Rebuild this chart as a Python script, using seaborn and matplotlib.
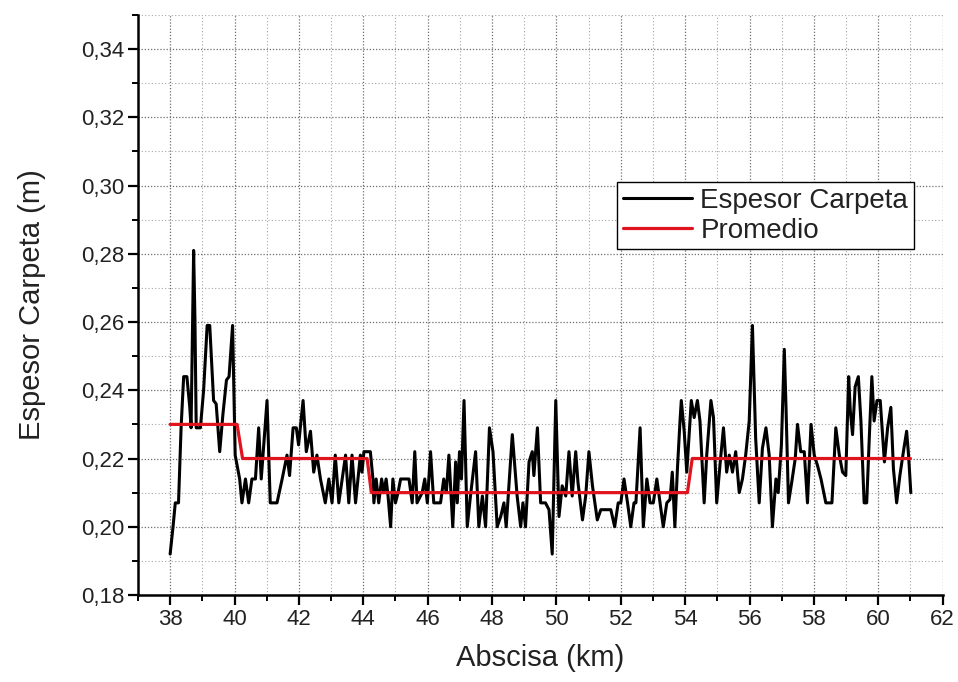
import matplotlib
matplotlib.use("Agg")
import matplotlib.pyplot as plt
import seaborn as sns
import pandas as pd
from matplotlib.ticker import MultipleLocator, FuncFormatter

# ---- data ----
abscisa_km = [
    38.00, 38.09, 38.16, 38.26, 38.34, 38.42, 38.52, 38.61, 38.65, 38.69, 38.73, 38.77, 38.81, 38.94,
    39.04, 39.15, 39.23, 39.35, 39.43, 39.54, 39.64, 39.75, 39.83, 39.94,
    40.02, 40.16, 40.23, 40.34, 40.44, 40.54, 40.65, 40.75, 40.83,
    41.01, 41.11, 41.32, 41.48, 41.63, 41.71, 41.82, 41.92, 41.99,
    42.13, 42.23, 42.36, 42.46, 42.56, 42.67, 42.82, 42.93,
    43.03, 43.13, 43.24, 43.45, 43.55, 43.65, 43.76, 43.91, 43.96,
    44.02, 44.22, 44.30, 44.33, 44.40, 44.48, 44.57, 44.64, 44.71, 44.77, 44.85, 44.92,
    45.00, 45.08, 45.16, 45.42, 45.52, 45.60, 45.67, 45.83, 45.91, 45.99,
    46.09, 46.19, 46.40, 46.50, 46.58, 46.66, 46.78, 46.87, 46.92, 46.99,
    47.05, 47.13, 47.23, 47.33, 47.49, 47.59, 47.70, 47.80, 47.92,
    48.03, 48.16, 48.27, 48.37, 48.44, 48.63, 48.78, 48.89, 48.96,
    49.04, 49.15, 49.25, 49.30, 49.41, 49.51, 49.66, 49.77, 49.87, 49.98,
    50.08, 50.18, 50.29, 50.39, 50.49, 50.60, 50.67, 50.81, 50.91,
    51.01, 51.12, 51.27, 51.38, 51.69, 51.81, 51.92,
    52.00, 52.10, 52.21, 52.31, 52.41, 52.47, 52.60, 52.70, 52.81, 52.91,
    53.01, 53.12, 53.22, 53.32, 53.43, 53.53, 53.60, 53.68, 53.76, 53.84, 53.88, 53.97,
    54.05, 54.19, 54.28, 54.38, 54.46, 54.59, 54.67, 54.80, 54.88, 54.98,
    55.09, 55.19, 55.29, 55.37, 55.47, 55.57, 55.68, 55.78, 55.88, 55.99,
    56.09, 56.19, 56.30, 56.40, 56.51, 56.61, 56.71, 56.82, 56.89, 56.99,
    57.08, 57.13, 57.21, 57.31, 57.42, 57.49, 57.59, 57.70, 57.80, 57.91,
    58.01, 58.11, 58.22, 58.37, 58.56, 58.68, 58.79, 58.89, 58.99,
    59.08, 59.13, 59.20, 59.28, 59.38, 59.46, 59.56, 59.64, 59.72, 59.80, 59.87, 59.96,
    60.06, 60.19, 60.29, 60.39, 60.47, 60.57, 60.67, 60.78, 60.88, 60.94, 61.01,
]
espesor_m = [
    0.192, 0.200, 0.207, 0.207, 0.229, 0.244, 0.244, 0.235, 0.229, 0.255, 0.281, 0.261, 0.229, 0.229,
    0.240, 0.259, 0.259, 0.237, 0.236, 0.222, 0.233, 0.243, 0.244, 0.259,
    0.221, 0.214, 0.207, 0.214, 0.207, 0.214, 0.214, 0.229, 0.214,
    0.237, 0.207, 0.207, 0.214, 0.221, 0.215, 0.229, 0.229, 0.224,
    0.237, 0.222, 0.228, 0.216, 0.221, 0.214, 0.207, 0.214,
    0.207, 0.221, 0.207, 0.221, 0.207, 0.221, 0.207, 0.221, 0.216,
    0.222, 0.222, 0.214, 0.207, 0.214, 0.207, 0.214, 0.210, 0.214, 0.209, 0.200, 0.214,
    0.207, 0.210, 0.214, 0.214, 0.207, 0.222, 0.207, 0.210, 0.214, 0.207,
    0.222, 0.207, 0.207, 0.214, 0.210, 0.221, 0.200, 0.219, 0.207, 0.222,
    0.214, 0.237, 0.200, 0.209, 0.222, 0.200, 0.209, 0.200, 0.229,
    0.222, 0.200, 0.203, 0.207, 0.200, 0.227, 0.209, 0.200, 0.207,
    0.200, 0.219, 0.222, 0.215, 0.229, 0.207, 0.207, 0.205, 0.192, 0.237,
    0.203, 0.212, 0.209, 0.222, 0.209, 0.222, 0.213, 0.202, 0.209,
    0.222, 0.212, 0.202, 0.205, 0.205, 0.200, 0.207,
    0.207, 0.214, 0.207, 0.200, 0.207, 0.207, 0.229, 0.200, 0.214, 0.207,
    0.207, 0.214, 0.207, 0.200, 0.207, 0.208, 0.216, 0.200, 0.217, 0.231, 0.237, 0.228,
    0.216, 0.237, 0.232, 0.237, 0.231, 0.207, 0.221, 0.237, 0.232, 0.207,
    0.219, 0.229, 0.216, 0.221, 0.216, 0.222, 0.210, 0.214, 0.221, 0.231,
    0.259, 0.226, 0.207, 0.223, 0.229, 0.221, 0.200, 0.214, 0.210, 0.224,
    0.252, 0.236, 0.207, 0.213, 0.220, 0.230, 0.222, 0.222, 0.207, 0.230,
    0.221, 0.218, 0.214, 0.207, 0.207, 0.229, 0.221, 0.216, 0.215,
    0.244, 0.234, 0.227, 0.241, 0.244, 0.231, 0.207, 0.207, 0.226, 0.244, 0.231, 0.237,
    0.237, 0.219, 0.229, 0.235, 0.217, 0.207, 0.215, 0.222, 0.228, 0.221, 0.210,
]
promedio_km = [38.0, 40.08, 40.25, 44.12, 44.25, 54.07, 54.22, 61.0]
promedio_m = [0.23, 0.23, 0.22, 0.22, 0.21, 0.21, 0.22, 0.22]

x_label = "Abscisa (km)"
y_label = "Espesor Carpeta (m)"
series_labels = ["Espesor Carpeta", "Promedio"]

df_esp = pd.DataFrame({"km": abscisa_km, "esp": espesor_m})
df_prom = pd.DataFrame({"km": promedio_km, "esp": promedio_m})

sns.set_style("white")
plt.rcParams["font.family"] = ["Liberation Sans", "DejaVu Sans"]

fig = plt.figure(figsize=(9.58, 6.82), dpi=100)
ax = fig.add_axes([0.144, 0.1276, 0.84, 0.8504])

sns.lineplot(data=df_esp, x="km", y="esp", ax=ax, color="black", lw=2.2,
             estimator=None, sort=False, label=series_labels[0])
sns.lineplot(data=df_prom, x="km", y="esp", ax=ax, color="#e0141e", lw=2.3,
             estimator=None, sort=False, label=series_labels[1])

ax.set_xlim(37, 62)
ax.set_ylim(0.18, 0.35)
ax.xaxis.set_major_locator(MultipleLocator(2))
ax.xaxis.set_minor_locator(MultipleLocator(1))
ax.yaxis.set_major_locator(MultipleLocator(0.02))
ax.yaxis.set_minor_locator(MultipleLocator(0.01))
ax.yaxis.set_major_formatter(FuncFormatter(lambda v, p: f"{v:.2f}".replace(".", ",")))

ax.grid(which="major", color="#6e6e6e", linestyle=(0, (1, 1.5)), linewidth=0.9)
ax.grid(which="minor", color="#a8a8a8", linestyle=(0, (1, 2)), linewidth=0.8)
ax.set_axisbelow(True)

for s in ["top", "right"]:
    ax.spines[s].set_visible(False)
for s in ["left", "bottom"]:
    ax.spines[s].set_color("black")
    ax.spines[s].set_linewidth(1.8)

ax.tick_params(which="major", direction="out", length=7, width=1.6, color="black",
               labelsize=16, pad=3, bottom=True, left=True, labelcolor="#222222")
ax.tick_params(which="minor", direction="out", length=4.5, width=1.4, color="black",
               bottom=True, left=True)

ax.set_xlabel(x_label, fontsize=21, labelpad=10, color="#222222")
ax.set_ylabel(y_label, fontsize=21, labelpad=25, color="#222222")

leg = ax.legend(loc="upper left", bbox_to_anchor=(0.644, 0.733), bbox_transform=fig.transFigure,
                fontsize=20, frameon=True, fancybox=False, handlelength=2.5,
                borderpad=0.2, labelspacing=0.15, handletextpad=0.3, borderaxespad=0)
leg.get_frame().set_edgecolor("black")
leg.get_frame().set_linewidth(1.0)
leg.get_frame().set_alpha(1)
for t in leg.get_texts():
    t.set_color("#222222")

fig.savefig("out.png", dpi=100)
